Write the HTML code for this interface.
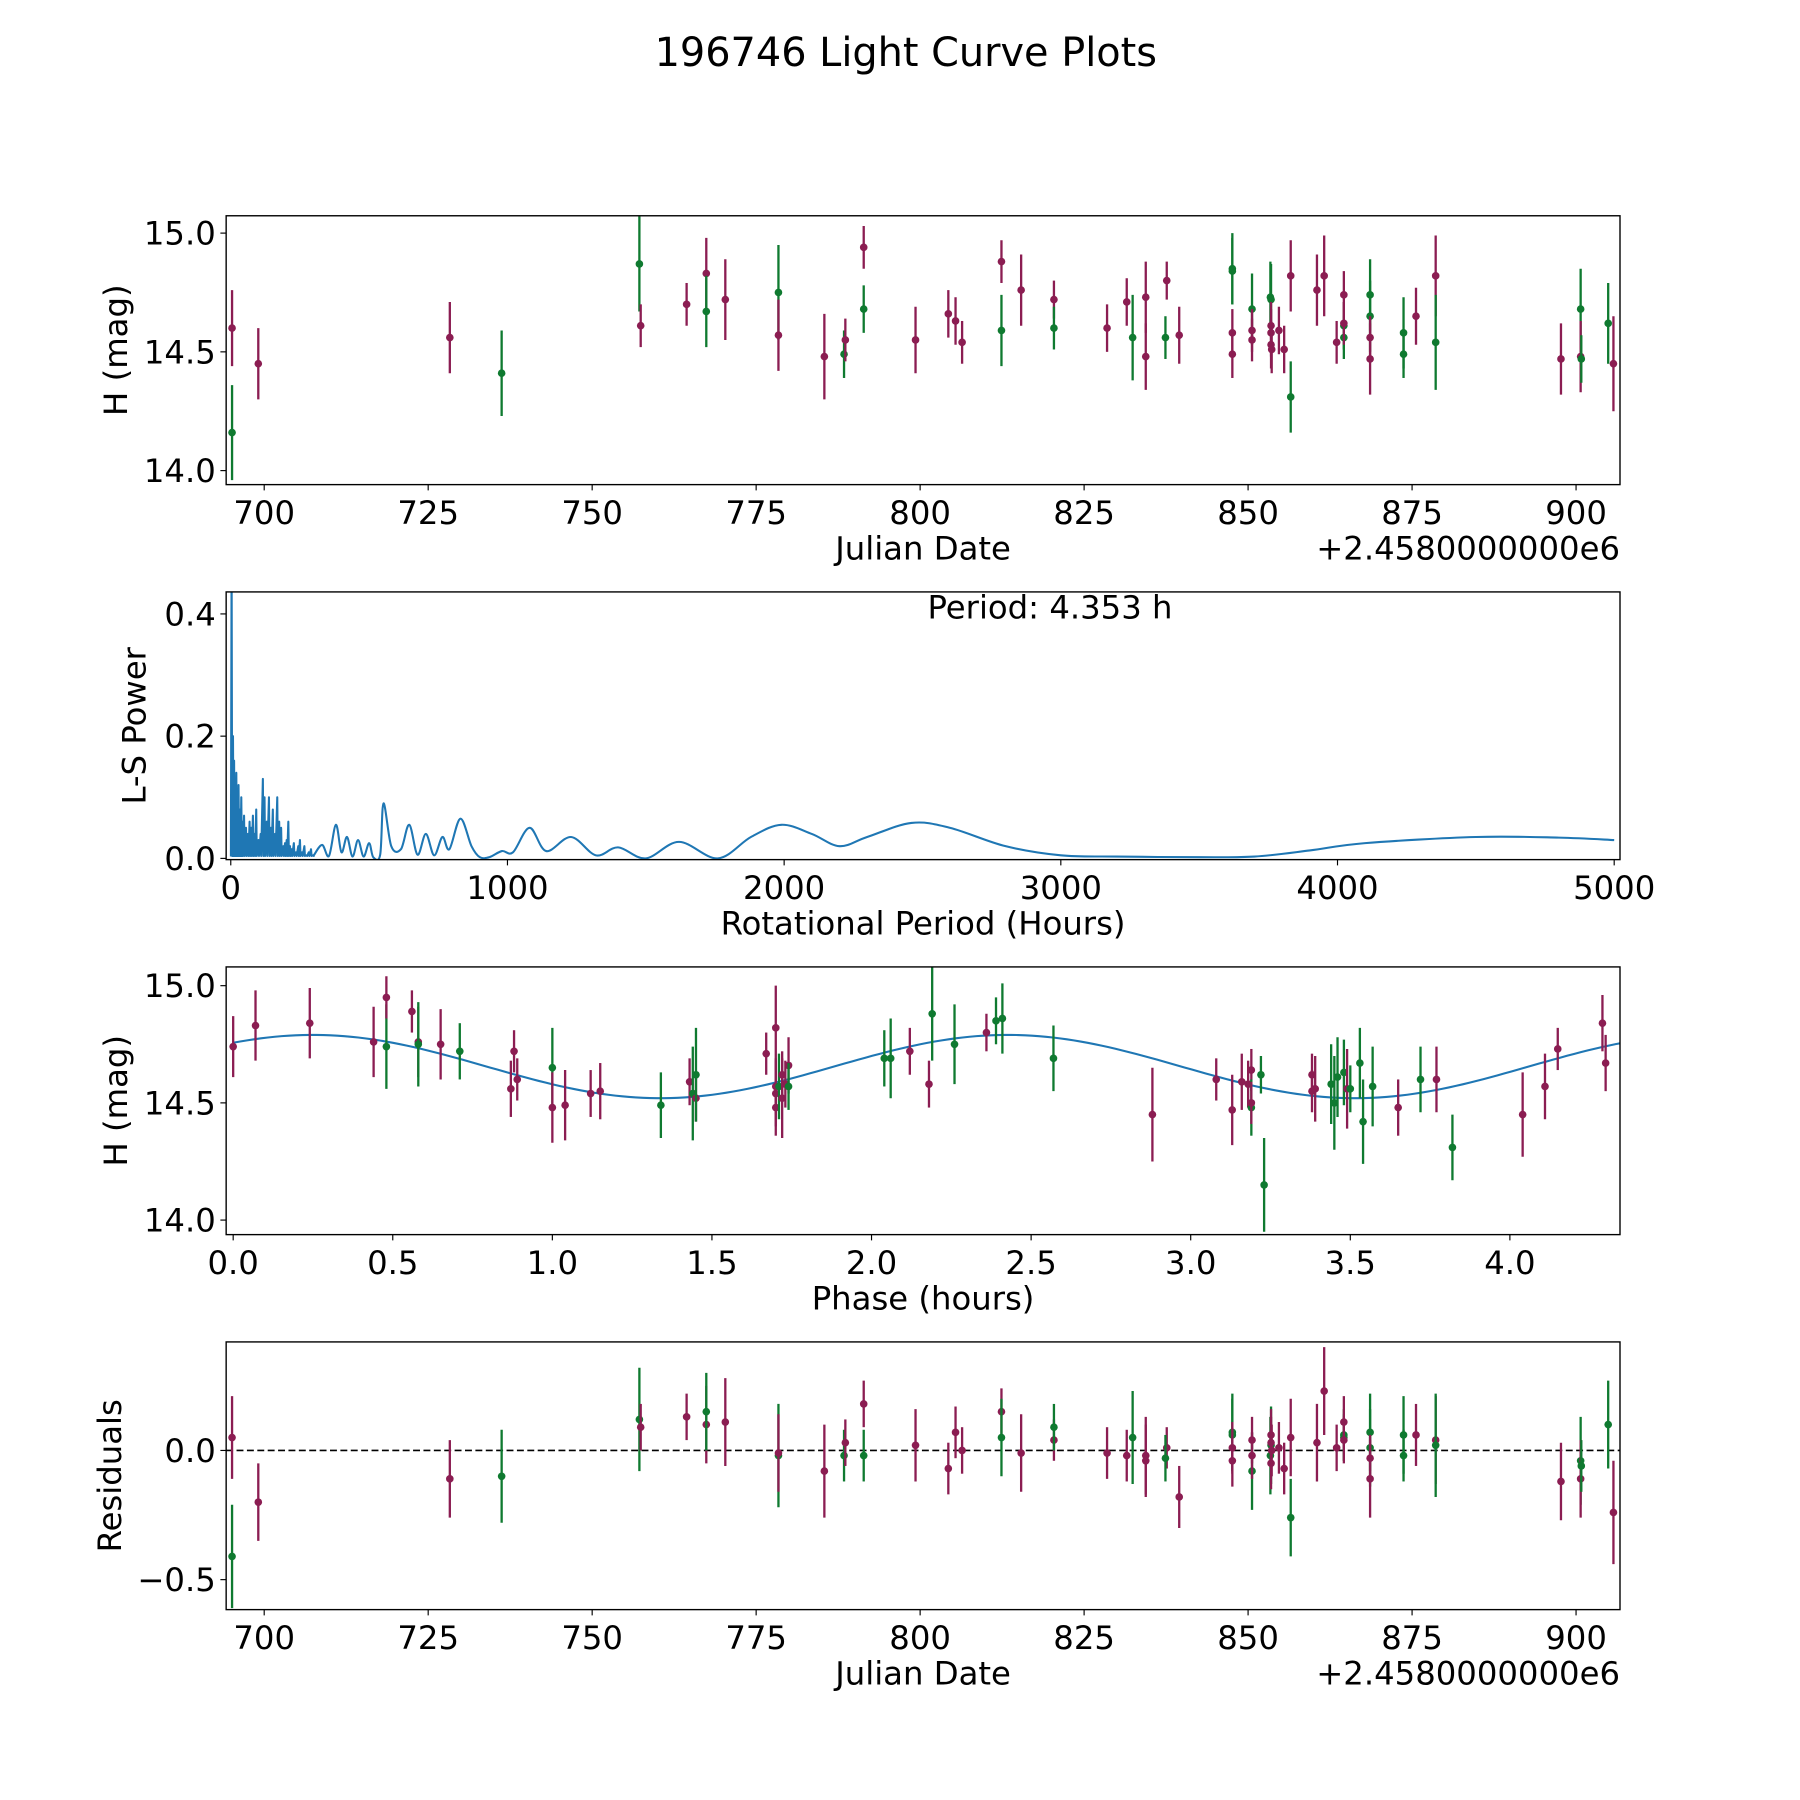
<!DOCTYPE html>
<html><head><meta charset="utf-8"><style>
html,body{margin:0;padding:0;background:#fff;}
svg{display:block;font-family:"DejaVu Sans","Liberation Sans",sans-serif;}
</style></head><body>
<svg id="fig" width="1800" height="1800" viewBox="0 0 1560 1560" xmlns="http://www.w3.org/2000/svg">
<rect width="1560" height="1560" fill="#fff"/>
<text x="785" y="57" font-size="34.5" text-anchor="middle">196746 Light Curve Plots</text>
<g id="root"></g>
</svg>
<script>
// ---- Panel 1 data: Julian date offset, H mag, error, filter color ----
const jd = [695.1,695.1,699.1,728.3,736.2,757.2,757.4,764.4,767.4,767.4,770.3,778.4,778.4,785.4,788.4,788.6,791.4,791.4,799.3,804.3,805.4,806.4,812.4,812.4,815.4,820.4,820.4,828.5,831.5,832.4,834.4,834.4,837.6,837.4,839.5,847.6,847.6,847.6,847.6,850.6,850.6,850.6,853.4,853.5,853.5,853.5,853.5,853.6,854.7,855.5,856.5,856.5,860.5,861.6,863.5,864.6,864.6,864.6,864.6,868.6,868.6,868.6,868.6,873.7,873.7,875.6,878.6,878.6,897.7,900.7,900.7,900.8,904.9,905.7];
const mag = [14.60,14.16,14.45,14.56,14.41,14.87,14.61,14.70,14.83,14.67,14.72,14.75,14.57,14.48,14.49,14.55,14.94,14.68,14.55,14.66,14.63,14.54,14.88,14.59,14.76,14.72,14.60,14.60,14.71,14.56,14.73,14.48,14.80,14.56,14.57,14.85,14.84,14.58,14.49,14.68,14.59,14.55,14.73,14.72,14.61,14.58,14.53,14.51,14.59,14.51,14.82,14.31,14.76,14.82,14.54,14.61,14.56,14.74,14.62,14.74,14.65,14.56,14.47,14.58,14.49,14.65,14.82,14.54,14.47,14.68,14.48,14.47,14.62,14.45];
const magErr = [0.16,0.2,0.15,0.15,0.18,0.2,0.09,0.09,0.15,0.15,0.17,0.2,0.15,0.18,0.1,0.09,0.09,0.1,0.14,0.1,0.1,0.09,0.09,0.15,0.15,0.08,0.09,0.1,0.1,0.18,0.15,0.14,0.08,0.09,0.12,0.15,0.14,0.1,0.1,0.15,0.09,0.09,0.15,0.15,0.1,0.1,0.1,0.1,0.1,0.1,0.15,0.15,0.15,0.17,0.09,0.1,0.09,0.1,0.09,0.15,0.15,0.09,0.15,0.15,0.1,0.12,0.17,0.2,0.15,0.17,0.15,0.1,0.17,0.2];
const filt = ['m','g','m','m','g','g','m','m','m','g','m','g','m','m','g','m','m','g','m','m','m','m','m','g','m','m','g','m','m','g','m','m','m','g','m','g','g','m','m','g','m','m','g','g','m','m','m','m','m','m','m','g','m','m','m','g','g','m','m','g','g','m','m','g','g','m','m','g','m','g','m','g','g','m'];
// ---- Panel 4 residuals (same points as panel 1) ----
const resid = [0.05,-0.41,-0.20,-0.11,-0.10,0.12,0.09,0.13,0.10,0.15,0.11,-0.02,-0.01,-0.08,-0.02,0.03,0.18,-0.02,0.02,-0.07,0.07,0.0,0.15,0.05,-0.01,0.04,0.09,-0.01,-0.02,0.05,-0.02,-0.04,0.01,-0.03,-0.18,0.07,0.06,0.01,-0.04,-0.08,0.04,-0.02,-0.02,0.02,0.06,0.03,-0.05,0.0,0.01,-0.07,0.05,-0.26,0.03,0.23,0.01,0.06,0.05,0.11,0.04,0.07,0.01,-0.03,-0.11,0.06,-0.02,0.06,0.04,0.02,-0.12,-0.04,-0.11,-0.06,0.10,-0.24];
// ---- Panel 3 phased data ----
const phase = [0.0,0.07,0.24,0.44,0.48,0.48,0.56,0.58,0.58,0.65,0.71,0.87,0.88,0.89,1.00,1.00,1.04,1.12,1.15,1.34,1.43,1.44,1.45,1.45,1.67,1.70,1.70,1.70,1.70,1.71,1.72,1.72,1.73,1.74,1.74,2.04,2.06,2.12,2.18,2.19,2.26,2.36,2.39,2.41,2.57,2.88,3.08,3.13,3.16,3.19,3.22,3.23,3.18,3.19,3.19,3.38,3.38,3.39,3.44,3.45,3.46,3.48,3.49,3.50,3.53,3.54,3.57,3.65,3.72,3.77,3.82,4.04,4.11,4.15,4.29,4.30];
const phMag = [14.74,14.83,14.84,14.76,14.74,14.95,14.89,14.76,14.75,14.75,14.72,14.56,14.72,14.60,14.65,14.48,14.49,14.54,14.55,14.49,14.59,14.54,14.52,14.62,14.71,14.82,14.57,14.48,14.54,14.57,14.52,14.62,14.58,14.66,14.57,14.69,14.69,14.72,14.58,14.88,14.75,14.80,14.85,14.86,14.69,14.45,14.60,14.47,14.59,14.64,14.62,14.15,14.58,14.48,14.50,14.62,14.55,14.56,14.58,14.50,14.61,14.63,14.56,14.56,14.67,14.42,14.57,14.48,14.60,14.60,14.31,14.45,14.57,14.73,14.84,14.67];
const phErr = [0.13,0.15,0.15,0.15,0.18,0.09,0.09,0.15,0.18,0.15,0.12,0.12,0.09,0.09,0.17,0.15,0.15,0.1,0.12,0.14,0.1,0.2,0.1,0.2,0.09,0.18,0.12,0.12,0.14,0.14,0.17,0.1,0.1,0.12,0.1,0.12,0.17,0.1,0.1,0.2,0.17,0.08,0.1,0.15,0.14,0.2,0.09,0.15,0.12,0.09,0.08,0.2,0.1,0.12,0.09,0.09,0.09,0.14,0.17,0.2,0.17,0.14,0.17,0.1,0.15,0.18,0.17,0.12,0.14,0.14,0.14,0.18,0.14,0.09,0.12,0.12];
const phFilt = ['m','m','m','m','g','m','m','m','g','m','g','m','m','m','g','m','m','m','m','g','m','g','m','g','m','m','m','m','m','g','m','m','m','m','g','g','g','m','m','g','g','m','g','g','g','m','m','m','m','m','g','g','m','g','m','m','m','m','g','g','g','g','m','g','g','g','g','m','g','m','g','m','m','m','m','m'];
// ---- Fit model ----
const fitPeriod = 4.353, fitMean = 14.655, fitAmp = 0.135, fitPeak = 0.25;
// ---- Panel 2 periodogram ----
const lsSpikePeriod = [3,8,12,16,20,24,28,33,38,42,48,55,62,68,74,80,86,92,100,108,116,122,130,138,145,152,160,168,175,182,190,196,202,208,214,220,228,236,244,250,258,266,274,282,290,298];
const lsSpikePower = [0.5,0.2,0.16,0.13,0.14,0.09,0.12,0.08,0.1,0.06,0.07,0.05,0.04,0.06,0.05,0.07,0.04,0.08,0.03,0.04,0.13,0.1,0.06,0.1,0.05,0.08,0.04,0.1,0.06,0.05,0.02,0.025,0.03,0.06,0.02,0.015,0.025,0.01,0.02,0.03,0.01,0.02,0.005,0.01,0.015,0.005];
const lsPeriod = [300,330,355,380,400,420,440,460,480,500,515,540,552,580,615,645,675,705,735,765,790,830,870,900,935,980,1020,1080,1140,1230,1320,1400,1500,1620,1760,1880,1990,2100,2200,2300,2460,2600,2800,3000,3200,3500,3700,3900,4100,4500,4800,5000];
const lsPower = [0.005,0.022,0.004,0.055,0.01,0.035,0.003,0.03,0.003,0.025,0.002,0.006,0.09,0.02,0.015,0.055,0.006,0.04,0.005,0.035,0.015,0.065,0.02,0.002,0.002,0.012,0.01,0.05,0.012,0.035,0.005,0.018,0.0,0.027,0.0,0.035,0.055,0.04,0.02,0.035,0.058,0.05,0.02,0.005,0.003,0.002,0.003,0.013,0.025,0.035,0.034,0.03];

const NS='http://www.w3.org/2000/svg';
const root=document.getElementById('root');
const COL={m:'#8b1d52',g:'#0f7a30'};
function el(tag,attrs,parent){const e=document.createElementNS(NS,tag);for(const k in attrs)e.setAttribute(k,attrs[k]);(parent||root).appendChild(e);return e;}
function txt(s,attrs,parent){const e=el('text',attrs,parent);e.textContent=s;return e;}
function lin(d0,d1,r0,r1){return v=>r0+(v-d0)/(d1-d0)*(r1-r0);}
const L=196,R=1404;
const FS=28;

function frame(name,top,bot,xs,ys,xt,yt,xlab,ylab,ylx,offset){
  const g=el('g',{});
  
  
  xt.forEach(t=>{const x=xs(t.v);el('line',{x1:x,x2:x,y1:bot,y2:bot+5,stroke:'#000','stroke-width':1},g);
    const tl=txt(t.s,{x:x,y:bot+34,'font-size':FS,'text-anchor':'middle'},g);
    
    });
  yt.forEach(t=>{const y=ys(t.v);el('line',{x1:L-5,x2:L,y1:y,y2:y,stroke:'#000','stroke-width':1},g);
    const tl=txt(t.s,{x:L-9,y:y+10,'font-size':FS,'text-anchor':'end'},g);
    
    });
  const xl=txt(xlab,{x:(L+R)/2,y:bot+65,'font-size':FS,'text-anchor':'middle'},g);
  
  
  const cy=(top+bot)/2;
  const yl=txt(ylab,{x:ylx,y:cy,'font-size':FS,'text-anchor':'middle',transform:`rotate(-90 ${ylx} ${cy})`},g);
  
  
  if(offset){const o=txt('+2.4580000000e6',{x:R,y:bot+65,'font-size':FS,'text-anchor':'end'},g);
    
    }
  return g;
}
function box(top,bot){const b=el('rect',{x:L,y:top,width:R-L,height:bot-top,fill:'none',stroke:'#000','stroke-width':1.2});
  
  }
function clip(id,top,bot){const c=el('clipPath',{id:id});el('rect',{x:L,y:top,width:R-L,height:bot-top},c);}
function errpts(name,cid,xs,ys,X,Y,E,F){
  const g=el('g',{'clip-path':`url(#${cid})`});
  
  
  X.forEach((xv,i)=>{const x=xs(xv),c=COL[F[i]];
    const b=el('line',{x1:x,x2:x,y1:ys(Y[i]-E[i]),y2:ys(Y[i]+E[i]),stroke:c,'stroke-width':2},g);
    
    
    const p=el('circle',{cx:x,cy:ys(Y[i]),r:3.3,fill:c},g);
    
    });
}
const jdTicks=[700,725,750,775,800,825,850,875,900].map(v=>({v,s:String(v)}));

// Panel 1
{const top=187,bot=420;const xs=lin(694.2,906.7,L,R),ys=lin(15.073,13.941,top,bot);
 clip('c1',top,bot);
 frame('light-curve-panel',top,bot,xs,ys,jdTicks,[14.0,14.5,15.0].map(v=>({v,s:v.toFixed(1)})),'Julian Date','H (mag)',110,true);
 errpts('light-curve-points','c1',xs,ys,jd,mag,magErr,filt);box(top,bot);}

// Panel 2
{const top=513,bot=745;const xs=lin(-16.7,5021,L,R),ys=lin(0.436,-0.002,top,bot);
 clip('c2',top,bot);
 frame('periodogram-panel',top,bot,xs,ys,[0,1000,2000,3000,4000,5000].map(v=>({v,s:String(v)})),[0,0.2,0.4].map(v=>({v,s:v.toFixed(1)})),'Rotational Period (Hours)','L-S Power',126,false);
 let d=`M${xs(0.5)},${ys(0.003)}`;
 lsSpikePeriod.forEach((p,i)=>{d+=` L${xs(p)},${ys(lsSpikePower[i])} L${xs(p+2)},${ys(0.004)}`;});
 const P=lsPeriod.map((p,i)=>[xs(p),ys(lsPower[i])]);
 d+=` L${P[0][0]},${P[0][1]}`;
 for(let i=0;i<P.length-1;i++){const p0=P[Math.max(0,i-1)],p1=P[i],p2=P[i+1],p3=P[Math.min(P.length-1,i+2)];
   d+=` C${p1[0]+(p2[0]-p0[0])/6},${p1[1]+(p2[1]-p0[1])/6} ${p2[0]-(p3[0]-p1[0])/6},${p2[1]-(p3[1]-p1[1])/6} ${p2[0]},${p2[1]}`;}
 const pl=el('path',{d:d,fill:'none',stroke:'#1f77b4','stroke-width':1.8,'clip-path':'url(#c2)','stroke-linejoin':'round'});
 
 
 const pt=txt('Period: '+fitPeriod.toFixed(3)+' h',{x:910,y:536,'font-size':FS,'text-anchor':'middle'});
 
 
 box(top,bot);}

// Panel 3
{const top=838,bot=1070;const xs=lin(-0.022,4.345,L,R),ys=lin(15.08,13.938,top,bot);
 clip('c3',top,bot);
 frame('phase-panel',top,bot,xs,ys,[0,0.5,1,1.5,2,2.5,3,3.5,4].map(v=>({v,s:v.toFixed(1)})),[14.0,14.5,15.0].map(v=>({v,s:v.toFixed(1)})),'Phase (hours)','H (mag)',110,false);
 let d='';for(let k=0;k<=200;k++){const p=fitPeriod*k/200;const m=fitMean+fitAmp*Math.cos(2*Math.PI*(p-fitPeak)/(fitPeriod/2));d+=(k?' L':'M')+xs(p)+','+ys(m);}
 const fl=el('path',{d:d,fill:'none',stroke:'#1f77b4','stroke-width':1.8,'clip-path':'url(#c3)'});
 
 
 errpts('phase-points','c3',xs,ys,phase,phMag,phErr,phFilt);box(top,bot);}

// Panel 4
{const top=1163,bot=1395;const xs=lin(694.2,906.7,L,R),ys=lin(0.42,-0.616,top,bot);
 clip('c4',top,bot);
 frame('residuals-panel',top,bot,xs,ys,jdTicks,[{v:-0.5,s:'\u22120.5'},{v:0,s:'0.0'}],'Julian Date','Residuals',105,true);
 const z=el('line',{x1:L,x2:R,y1:ys(0),y2:ys(0),stroke:'#000','stroke-width':1.5,'stroke-dasharray':'6,3'});
 
 
 errpts('residual-points','c4',xs,ys,jd,resid,magErr,filt);box(top,bot);}
</script>
</body></html>
